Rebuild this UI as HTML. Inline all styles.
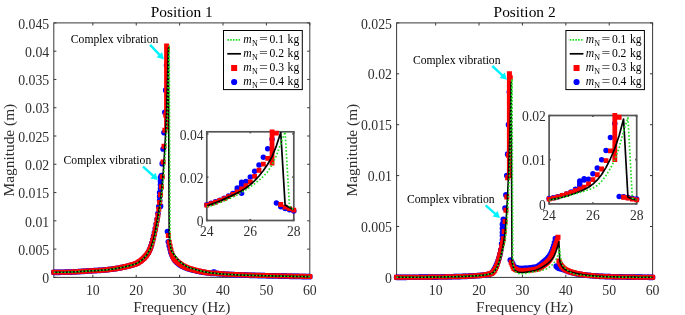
<!DOCTYPE html><html><head><meta charset="utf-8"><style>html,body{margin:0;padding:0;background:#fff;}svg{display:block;will-change:transform;}text{font-family:"Liberation Serif", serif;}</style></head><body>
<svg width="685" height="315" viewBox="0 0 685 315">
<rect width="685" height="315" fill="#fff"/>
<line x1="92.85" y1="277.4" x2="92.85" y2="274.8" stroke="#383838" stroke-width="1.0"/>
<line x1="92.85" y1="22.9" x2="92.85" y2="25.5" stroke="#383838" stroke-width="1.0"/>
<line x1="136.24" y1="277.4" x2="136.24" y2="274.8" stroke="#383838" stroke-width="1.0"/>
<line x1="136.24" y1="22.9" x2="136.24" y2="25.5" stroke="#383838" stroke-width="1.0"/>
<line x1="179.63" y1="277.4" x2="179.63" y2="274.8" stroke="#383838" stroke-width="1.0"/>
<line x1="179.63" y1="22.9" x2="179.63" y2="25.5" stroke="#383838" stroke-width="1.0"/>
<line x1="223.02" y1="277.4" x2="223.02" y2="274.8" stroke="#383838" stroke-width="1.0"/>
<line x1="223.02" y1="22.9" x2="223.02" y2="25.5" stroke="#383838" stroke-width="1.0"/>
<line x1="266.41" y1="277.4" x2="266.41" y2="274.8" stroke="#383838" stroke-width="1.0"/>
<line x1="266.41" y1="22.9" x2="266.41" y2="25.5" stroke="#383838" stroke-width="1.0"/>
<line x1="309.8" y1="277.4" x2="309.8" y2="274.8" stroke="#383838" stroke-width="1.0"/>
<line x1="309.8" y1="22.9" x2="309.8" y2="25.5" stroke="#383838" stroke-width="1.0"/>
<line x1="53.8" y1="277.4" x2="56.4" y2="277.4" stroke="#383838" stroke-width="1.0"/>
<line x1="309.8" y1="277.4" x2="307.2" y2="277.4" stroke="#383838" stroke-width="1.0"/>
<line x1="53.8" y1="249.12" x2="56.4" y2="249.12" stroke="#383838" stroke-width="1.0"/>
<line x1="309.8" y1="249.12" x2="307.2" y2="249.12" stroke="#383838" stroke-width="1.0"/>
<line x1="53.8" y1="220.84" x2="56.4" y2="220.84" stroke="#383838" stroke-width="1.0"/>
<line x1="309.8" y1="220.84" x2="307.2" y2="220.84" stroke="#383838" stroke-width="1.0"/>
<line x1="53.8" y1="192.57" x2="56.4" y2="192.57" stroke="#383838" stroke-width="1.0"/>
<line x1="309.8" y1="192.57" x2="307.2" y2="192.57" stroke="#383838" stroke-width="1.0"/>
<line x1="53.8" y1="164.29" x2="56.4" y2="164.29" stroke="#383838" stroke-width="1.0"/>
<line x1="309.8" y1="164.29" x2="307.2" y2="164.29" stroke="#383838" stroke-width="1.0"/>
<line x1="53.8" y1="136.01" x2="56.4" y2="136.01" stroke="#383838" stroke-width="1.0"/>
<line x1="309.8" y1="136.01" x2="307.2" y2="136.01" stroke="#383838" stroke-width="1.0"/>
<line x1="53.8" y1="107.73" x2="56.4" y2="107.73" stroke="#383838" stroke-width="1.0"/>
<line x1="309.8" y1="107.73" x2="307.2" y2="107.73" stroke="#383838" stroke-width="1.0"/>
<line x1="53.8" y1="79.46" x2="56.4" y2="79.46" stroke="#383838" stroke-width="1.0"/>
<line x1="309.8" y1="79.46" x2="307.2" y2="79.46" stroke="#383838" stroke-width="1.0"/>
<line x1="53.8" y1="51.18" x2="56.4" y2="51.18" stroke="#383838" stroke-width="1.0"/>
<line x1="309.8" y1="51.18" x2="307.2" y2="51.18" stroke="#383838" stroke-width="1.0"/>
<line x1="53.8" y1="22.9" x2="56.4" y2="22.9" stroke="#383838" stroke-width="1.0"/>
<line x1="309.8" y1="22.9" x2="307.2" y2="22.9" stroke="#383838" stroke-width="1.0"/>
<rect x="53.8" y="22.9" width="256" height="254.5" fill="none" stroke="#383838" stroke-width="1.0"/>
<path d="M53.8 272.31h0M54.67 272.31h0M55.54 272.31h0M56.4 272.3h0M57.27 272.3h0M58.14 272.29h0M59.01 272.29h0M59.87 272.28h0M60.74 272.27h0M61.61 272.26h0M62.48 272.25h0M63.35 272.24h0M64.21 272.23h0M65.08 272.21h0M65.95 272.19h0M66.82 272.17h0M67.68 272.14h0M68.55 272.11h0M69.42 272.09h0M70.29 272.06h0M71.16 272.03h0M72.02 271.99h0M72.89 271.96h0M73.76 271.92h0M74.63 271.87h0M75.49 271.83h0M76.36 271.78h0M77.23 271.73h0M78.1 271.68h0M78.97 271.63h0M79.83 271.57h0M80.7 271.52h0M81.57 271.47h0M82.44 271.41h0M83.31 271.35h0M84.17 271.29h0M85.04 271.23h0M85.91 271.17h0M86.78 271.11h0M87.64 271.05h0M88.51 270.99h0M89.38 270.93h0M90.25 270.88h0M91.12 270.83h0M91.98 270.78h0M92.85 270.73h0M93.72 270.69h0M94.59 270.64h0M95.45 270.6h0M96.32 270.55h0M97.19 270.51h0M98.06 270.46h0M98.93 270.41h0M99.79 270.36h0M100.66 270.31h0M101.53 270.25h0M102.4 270.18h0M103.26 270.12h0M104.13 270.04h0M105 269.96h0M105.87 269.88h0M106.74 269.78h0M107.6 269.69h0M108.47 269.59h0M109.34 269.48h0M110.21 269.37h0M111.07 269.26h0M111.94 269.14h0M112.81 269.02h0M113.68 268.89h0M114.55 268.76h0M115.41 268.63h0M116.28 268.5h0M117.15 268.36h0M118.02 268.21h0M118.88 268.05h0M119.75 267.89h0M120.62 267.72h0M121.49 267.55h0M122.36 267.37h0M123.22 267.18h0M124.09 266.99h0M124.96 266.79h0M125.83 266.59h0M126.69 266.38h0M127.56 266.16h0M128.43 265.94h0M129.3 265.72h0M130.17 265.5h0M131.03 265.28h0M131.9 265.04h0M132.77 264.79h0M133.64 264.52h0M134.51 264.23h0M135.37 263.91h0M136.24 263.56h0M137.11 263.16h0M137.98 262.67h0M138.84 262.12h0M139.71 261.52h0M140.58 260.88h0M141.45 260.22h0M142.32 259.51h0M143.18 258.76h0M144.05 257.94h0M144.92 257.05h0M145.79 256.06h0M146.65 254.99h0M147.52 253.81h0M148.39 252.44h0M149.26 250.82h0M150.13 248.75h0M150.99 246.14h0M151.86 243.07h0M152.73 239.67h0M153.6 236.11h0M154.46 232.49h0M155.33 228.6h0M156.2 224.24h0M157.07 219.24h0M157.94 213.49h0M158.8 206.71h0M159.67 192.57h0M160.54 177.3h0M161.41 175.6h0M162.27 163.72h0M163.14 149.02h0M164.01 132.62h0M164.88 112.26h0M165.75 90.2h0M166.61 65.32h0M159.67 200.48h0M159.67 196.53h0M160.54 188.61h0M160.54 184.65h0M160.54 181.26h0M160.54 206.14h0M167.48 231.59h0M168.35 241.77h0M169.22 245.73h0M170.08 249.12h0M170.95 252.52h0M171.82 254.79h0M172.69 256.67h0M173.56 258.25h0M174.42 259.58h0M175.29 260.72h0M176.16 261.71h0M177.03 262.58h0M177.89 263.36h0M178.76 264.04h0M179.63 264.66h0M180.5 265.21h0M181.37 265.71h0M182.23 266.18h0M183.1 266.61h0M183.97 267.01h0M184.84 267.39h0M185.71 267.75h0M186.57 268.08h0M187.44 268.39h0M188.31 268.68h0M189.18 268.95h0M190.04 269.21h0M190.91 269.46h0M191.78 269.7h0M192.65 269.93h0M193.52 270.15h0M194.38 270.37h0M195.25 270.59h0M196.12 270.8h0M196.99 271h0M197.85 271.19h0M198.72 271.37h0M199.59 271.55h0M200.46 271.72h0M201.33 271.89h0M202.19 272.05h0M203.06 272.2h0M203.93 272.35h0M204.8 272.49h0M205.66 272.62h0M206.53 272.75h0M207.4 272.87h0M208.27 272.99h0M209.14 273.1h0M210 273.21h0M210.87 273.32h0M211.74 273.42h0M212.61 273.51h0M213.47 272.03h0M214.34 272.13h0M215.21 273.37h0M216.08 273.46h0M216.95 273.55h0M217.81 273.64h0M218.68 273.72h0M219.55 273.79h0M220.42 273.87h0M221.28 273.94h0M222.15 274.01h0M223.02 274.07h0M223.89 274.13h0M224.76 274.19h0M225.62 274.25h0M226.49 274.3h0M227.36 274.36h0M228.23 274.41h0M229.09 274.45h0M229.96 274.5h0M230.83 274.55h0M231.7 274.59h0M232.57 274.63h0M233.43 274.67h0M234.3 274.71h0M235.17 274.75h0M236.04 274.79h0M236.91 274.83h0M237.77 274.86h0M238.64 274.9h0M239.51 274.93h0M240.38 274.97h0M241.24 275h0M242.11 275.04h0M242.98 275.07h0M243.85 275.1h0M244.72 275.13h0M245.58 275.16h0M246.45 275.19h0M247.32 275.22h0M248.19 275.25h0M249.05 275.27h0M249.92 275.3h0M250.79 275.33h0M251.66 275.35h0M252.53 275.38h0M253.39 275.41h0M254.26 275.43h0M255.13 275.46h0M256 275.48h0M256.86 275.51h0M257.73 275.53h0M258.6 275.56h0M259.47 275.58h0M260.34 275.61h0M261.2 275.63h0M262.07 275.65h0M262.94 275.68h0M263.81 275.7h0M264.67 275.72h0M265.54 275.74h0M266.41 275.76h0M267.28 275.78h0M268.15 275.8h0M269.01 275.82h0M269.88 275.85h0M270.75 275.87h0M271.62 275.89h0M272.48 275.91h0M273.35 275.92h0M274.22 275.94h0M275.09 275.96h0M275.96 275.98h0M276.82 276h0M277.69 276.02h0M278.56 276.04h0M279.43 276.06h0M280.29 276.08h0M281.16 276.1h0M282.03 276.12h0M282.9 276.14h0M283.77 276.16h0M284.63 276.17h0M285.5 276.19h0M286.37 276.21h0M287.24 276.23h0M288.11 276.25h0M288.97 276.27h0M289.84 276.29h0M290.71 276.3h0M291.58 276.32h0M292.44 276.34h0M293.31 276.36h0M294.18 276.38h0M295.05 276.39h0M295.92 276.41h0M296.78 276.43h0M297.65 276.45h0M298.52 276.46h0M299.39 276.48h0M300.25 276.5h0M301.12 276.51h0M301.99 276.53h0M302.86 276.54h0M303.73 276.56h0M304.59 276.58h0M305.46 276.59h0M306.33 276.61h0M307.2 276.62h0M308.06 276.64h0M308.93 276.65h0M309.8 276.66h0" stroke="#0000ff" stroke-width="5.7" stroke-linecap="round" fill="none"/>
<path d="M53.8 272.31h0M54.67 272.31h0M55.54 272.31h0M56.4 272.3h0M57.27 272.3h0M58.14 272.29h0M59.01 272.29h0M59.87 272.28h0M60.74 272.27h0M61.61 272.26h0M62.48 272.25h0M63.35 272.24h0M64.21 272.23h0M65.08 272.21h0M65.95 272.19h0M66.82 272.17h0M67.68 272.14h0M68.55 272.11h0M69.42 272.09h0M70.29 272.06h0M71.16 272.03h0M72.02 271.99h0M72.89 271.96h0M73.76 271.92h0M74.63 271.87h0M75.49 271.83h0M76.36 271.78h0M77.23 271.73h0M78.1 271.68h0M78.97 271.63h0M79.83 271.57h0M80.7 271.52h0M81.57 271.47h0M82.44 271.41h0M83.31 271.35h0M84.17 271.29h0M85.04 271.23h0M85.91 271.17h0M86.78 271.11h0M87.64 271.05h0M88.51 270.99h0M89.38 270.93h0M90.25 270.88h0M91.12 270.83h0M91.98 270.78h0M92.85 270.73h0M93.72 270.69h0M94.59 270.64h0M95.45 270.6h0M96.32 270.55h0M97.19 270.51h0M98.06 270.46h0M98.93 270.41h0M99.79 270.36h0M100.66 270.31h0M101.53 270.25h0M102.4 270.18h0M103.26 270.12h0M104.13 270.04h0M105 269.96h0M105.87 269.88h0M106.74 269.78h0M107.6 269.69h0M108.47 269.59h0M109.34 269.48h0M110.21 269.37h0M111.07 269.26h0M111.94 269.14h0M112.81 269.02h0M113.68 268.89h0M114.55 268.76h0M115.41 268.63h0M116.28 268.5h0M117.15 268.36h0M118.02 268.21h0M118.88 268.05h0M119.75 267.89h0M120.62 267.72h0M121.49 267.55h0M122.36 267.37h0M123.22 267.18h0M124.09 266.99h0M124.96 266.79h0M125.83 266.59h0M126.69 266.38h0M127.56 266.16h0M128.43 265.94h0M129.3 265.72h0M130.17 265.5h0M131.03 265.28h0M131.9 265.04h0M132.77 264.79h0M133.64 264.52h0M134.51 264.23h0M135.37 263.91h0M136.24 263.56h0M137.11 263.16h0M137.98 262.67h0M138.84 262.12h0M139.71 261.52h0M140.58 260.88h0M141.45 260.22h0M142.32 259.51h0M143.18 258.76h0M144.05 257.94h0M144.92 257.05h0M145.79 256.06h0M146.65 254.99h0M147.52 253.79h0M148.39 252.42h0M149.26 250.82h0M150.13 248.86h0M150.99 246.49h0M151.86 243.73h0M152.73 240.62h0M153.6 237.25h0M154.46 233.47h0M155.33 229.26h0M156.2 224.86h0M157.07 220.3h0M157.94 215.19h0M158.8 209.23h0M159.67 202.43h0M160.54 194.83h0M161.41 186.68h0M162.27 176.73h0M163.14 162.03h0M164.01 146.19h0M164.88 130.36h0M165.75 115.09h0M166.61 127.53h0M166.61 125.27h0M166.61 123h0M166.61 120.74h0M166.61 118.48h0M166.61 116.22h0M166.61 113.95h0M166.61 111.69h0M166.61 109.43h0M166.61 107.17h0M166.61 104.91h0M166.61 102.64h0M166.61 100.38h0M166.61 98.12h0M166.61 95.86h0M166.61 93.59h0M166.61 91.33h0M166.61 89.07h0M166.61 86.81h0M166.61 84.55h0M166.61 82.28h0M166.61 80.02h0M166.61 77.76h0M166.61 75.5h0M166.61 73.23h0M166.61 70.97h0M166.61 68.71h0M166.61 66.45h0M166.61 64.19h0M166.61 61.92h0M166.61 59.66h0M166.61 57.4h0M166.61 55.14h0M166.61 52.87h0M166.61 50.61h0M166.61 48.35h0M166.61 46.09h0M167.48 48.92h0M168.35 235.55h0M169.22 242.34h0M170.08 246.29h0M170.95 250.25h0M171.82 253.69h0M172.69 256.19h0M173.56 257.72h0M174.42 258.93h0M175.29 259.92h0M176.16 260.75h0M177.03 261.5h0M177.89 262.22h0M178.76 262.94h0M179.63 263.62h0M180.5 264.25h0M181.37 264.84h0M182.23 265.38h0M183.1 265.89h0M183.97 266.36h0M184.84 266.8h0M185.71 267.2h0M186.57 267.57h0M187.44 267.91h0M188.31 268.23h0M189.18 268.53h0M190.04 268.81h0M190.91 269.08h0M191.78 269.33h0M192.65 269.58h0M193.52 269.81h0M194.38 270.04h0M195.25 270.26h0M196.12 270.48h0M196.99 270.69h0M197.85 270.9h0M198.72 271.09h0M199.59 271.28h0M200.46 271.46h0M201.33 271.64h0M202.19 271.81h0M203.06 271.97h0M203.93 272.12h0M204.8 272.27h0M205.66 272.42h0M206.53 272.55h0M207.4 272.68h0M208.27 272.81h0M209.14 272.93h0M210 273.05h0M210.87 273.16h0M211.74 273.27h0M212.61 273.37h0M213.47 272.99h0M214.34 273.1h0M215.21 273.2h0M216.08 273.3h0M216.95 273.38h0M217.81 273.47h0M218.68 273.55h0M219.55 273.63h0M220.42 273.7h0M221.28 273.77h0M222.15 273.84h0M223.02 273.9h0M223.89 273.96h0M224.76 274.02h0M225.62 274.08h0M226.49 274.13h0M227.36 274.19h0M228.23 274.24h0M229.09 274.28h0M229.96 274.33h0M230.83 274.38h0M231.7 274.42h0M232.57 274.46h0M233.43 274.5h0M234.3 274.54h0M235.17 274.58h0M236.04 274.62h0M236.91 274.66h0M237.77 274.69h0M238.64 274.73h0M239.51 274.76h0M240.38 274.8h0M241.24 274.83h0M242.11 274.87h0M242.98 274.9h0M243.85 274.93h0M244.72 274.96h0M245.58 274.99h0M246.45 275.02h0M247.32 275.05h0M248.19 275.08h0M249.05 275.1h0M249.92 275.13h0M250.79 275.16h0M251.66 275.19h0M252.53 275.21h0M253.39 275.24h0M254.26 275.26h0M255.13 275.29h0M256 275.31h0M256.86 275.34h0M257.73 275.36h0M258.6 275.39h0M259.47 275.41h0M260.34 275.44h0M261.2 275.46h0M262.07 275.48h0M262.94 275.51h0M263.81 275.53h0M264.67 275.55h0M265.54 275.57h0M266.41 275.59h0M267.28 275.61h0M268.15 275.63h0M269.01 275.65h0M269.88 275.68h0M270.75 275.7h0M271.62 275.72h0M272.48 275.74h0M273.35 275.76h0M274.22 275.77h0M275.09 275.79h0M275.96 275.81h0M276.82 275.83h0M277.69 275.85h0M278.56 275.87h0M279.43 275.89h0M280.29 275.91h0M281.16 275.93h0M282.03 275.95h0M282.9 275.97h0M283.77 275.99h0M284.63 276.01h0M285.5 276.02h0M286.37 276.04h0M287.24 276.06h0M288.11 276.08h0M288.97 276.1h0M289.84 276.12h0M290.71 276.13h0M291.58 276.15h0M292.44 276.17h0M293.31 276.19h0M294.18 276.21h0M295.05 276.22h0M295.92 276.24h0M296.78 276.26h0M297.65 276.28h0M298.52 276.29h0M299.39 276.31h0M300.25 276.33h0M301.12 276.34h0M301.99 276.36h0M302.86 276.37h0M303.73 276.39h0M304.59 276.41h0M305.46 276.42h0M306.33 276.44h0M307.2 276.45h0M308.06 276.47h0M308.93 276.48h0M309.8 276.5h0" stroke="#ff0000" stroke-width="5.0" stroke-linecap="square" fill="none"/>
<polyline points="53.8,272.31 54.67,272.31 55.54,272.31 56.4,272.3 57.27,272.3 58.14,272.29 59.01,272.29 59.87,272.28 60.74,272.27 61.61,272.26 62.48,272.25 63.35,272.24 64.21,272.23 65.08,272.21 65.95,272.19 66.82,272.17 67.68,272.14 68.55,272.11 69.42,272.09 70.29,272.06 71.16,272.03 72.02,271.99 72.89,271.96 73.76,271.92 74.63,271.87 75.49,271.83 76.36,271.78 77.23,271.73 78.1,271.68 78.97,271.63 79.83,271.57 80.7,271.52 81.57,271.47 82.44,271.41 83.31,271.35 84.17,271.29 85.04,271.23 85.91,271.17 86.78,271.11 87.64,271.05 88.51,270.99 89.38,270.93 90.25,270.88 91.12,270.83 91.98,270.78 92.85,270.73 93.72,270.69 94.59,270.64 95.45,270.6 96.32,270.55 97.19,270.51 98.06,270.46 98.93,270.41 99.79,270.36 100.66,270.31 101.53,270.25 102.4,270.18 103.26,270.12 104.13,270.04 105,269.96 105.87,269.88 106.74,269.78 107.6,269.69 108.47,269.59 109.34,269.48 110.21,269.37 111.07,269.26 111.94,269.14 112.81,269.02 113.68,268.89 114.55,268.76 115.41,268.63 116.28,268.5 117.15,268.36 118.02,268.21 118.88,268.05 119.75,267.89 120.62,267.72 121.49,267.55 122.36,267.37 123.22,267.18 124.09,266.99 124.96,266.79 125.83,266.59 126.69,266.38 127.56,266.16 128.43,265.94 129.3,265.72 130.17,265.5 131.03,265.28 131.9,265.04 132.77,264.79 133.64,264.52 134.51,264.23 135.37,263.91 136.24,263.56 137.11,263.16 137.98,262.67 138.84,262.12 139.71,261.52 140.58,260.88 141.45,260.22 142.32,259.51 143.18,258.76 144.05,257.94 144.92,257.05 145.79,256.06 146.65,254.98 147.52,253.76 148.39,252.38 149.26,250.82 150.13,249.03 150.99,246.98 151.86,244.64 152.73,241.97 153.6,238.94 154.46,235.29 155.33,231.01 156.2,226.45 157.07,221.52 157.94,216.32 158.8,211.08 159.67,205.69 160.54,199.69 161.41,192.51 162.27,183.74 163.14,173.37 164.01,161.05 164.88,146.61 165.75,130.42 166.61,110.56 167.48,82.28 168.35,47.78 169.22,236.68 170.08,243.47 170.95,249.12 171.82,251.15 172.69,252.52 173.56,253.86 174.42,255.05 175.29,256.19 176.16,257.33 177.03,258.44 177.89,259.49 178.76,260.48 179.63,261.39 180.5,262.21 181.37,262.94 182.23,263.62 183.1,264.25 183.97,264.84 184.84,265.38 185.71,265.89 186.57,266.36 187.44,266.8 188.31,267.2 189.18,267.57 190.04,267.91 190.91,268.23 191.78,268.53 192.65,268.81 193.52,269.08 194.38,269.33 195.25,269.58 196.12,269.81 196.99,270.04 197.85,270.26 198.72,270.48 199.59,270.69 200.46,270.9 201.33,271.09 202.19,271.28 203.06,271.46 203.93,271.64 204.8,271.81 205.66,271.97 206.53,272.12 207.4,272.27 208.27,272.42 209.14,272.55 210,272.68 210.87,272.81 211.74,272.93 212.61,273.05 213.47,273.16 214.34,273.27 215.21,273.37 216.08,273.46 216.95,273.55 217.81,273.64 218.68,273.72 219.55,273.79 220.42,273.87 221.28,273.94 222.15,274.01 223.02,274.07 223.89,274.13 224.76,274.19 225.62,274.25 226.49,274.3 227.36,274.36 228.23,274.41 229.09,274.45 229.96,274.5 230.83,274.55 231.7,274.59 232.57,274.63 233.43,274.67 234.3,274.71 235.17,274.75 236.04,274.79 236.91,274.83 237.77,274.86 238.64,274.9 239.51,274.93 240.38,274.97 241.24,275 242.11,275.04 242.98,275.07 243.85,275.1 244.72,275.13 245.58,275.16 246.45,275.19 247.32,275.22 248.19,275.25 249.05,275.27 249.92,275.3 250.79,275.33 251.66,275.35 252.53,275.38 253.39,275.41 254.26,275.43 255.13,275.46 256,275.48 256.86,275.51 257.73,275.53 258.6,275.56 259.47,275.58 260.34,275.61 261.2,275.63 262.07,275.65 262.94,275.68 263.81,275.7 264.67,275.72 265.54,275.74 266.41,275.76 267.28,275.78 268.15,275.8 269.01,275.82 269.88,275.85 270.75,275.87 271.62,275.89 272.48,275.91 273.35,275.92 274.22,275.94 275.09,275.96 275.96,275.98 276.82,276 277.69,276.02 278.56,276.04 279.43,276.06 280.29,276.08 281.16,276.1 282.03,276.12 282.9,276.14 283.77,276.16 284.63,276.17 285.5,276.19 286.37,276.21 287.24,276.23 288.11,276.25 288.97,276.27 289.84,276.29 290.71,276.3 291.58,276.32 292.44,276.34 293.31,276.36 294.18,276.38 295.05,276.39 295.92,276.41 296.78,276.43 297.65,276.45 298.52,276.46 299.39,276.48 300.25,276.5 301.12,276.51 301.99,276.53 302.86,276.54 303.73,276.56 304.59,276.58 305.46,276.59 306.33,276.61 307.2,276.62 308.06,276.64 308.93,276.65 309.8,276.66" stroke="#000" stroke-width="1.6" fill="none" stroke-linejoin="round"/>
<polyline points="53.8,272.31 54.67,272.31 55.54,272.31 56.4,272.3 57.27,272.3 58.14,272.29 59.01,272.29 59.87,272.28 60.74,272.27 61.61,272.26 62.48,272.25 63.35,272.24 64.21,272.23 65.08,272.21 65.95,272.19 66.82,272.17 67.68,272.14 68.55,272.11 69.42,272.09 70.29,272.06 71.16,272.03 72.02,271.99 72.89,271.96 73.76,271.92 74.63,271.87 75.49,271.83 76.36,271.78 77.23,271.73 78.1,271.68 78.97,271.63 79.83,271.57 80.7,271.52 81.57,271.47 82.44,271.41 83.31,271.35 84.17,271.29 85.04,271.23 85.91,271.17 86.78,271.11 87.64,271.05 88.51,270.99 89.38,270.93 90.25,270.88 91.12,270.83 91.98,270.78 92.85,270.73 93.72,270.69 94.59,270.64 95.45,270.6 96.32,270.55 97.19,270.51 98.06,270.46 98.93,270.41 99.79,270.36 100.66,270.31 101.53,270.25 102.4,270.18 103.26,270.12 104.13,270.04 105,269.96 105.87,269.88 106.74,269.78 107.6,269.69 108.47,269.59 109.34,269.48 110.21,269.37 111.07,269.26 111.94,269.14 112.81,269.02 113.68,268.89 114.55,268.76 115.41,268.63 116.28,268.5 117.15,268.36 118.02,268.21 118.88,268.05 119.75,267.89 120.62,267.72 121.49,267.55 122.36,267.37 123.22,267.18 124.09,266.99 124.96,266.79 125.83,266.59 126.69,266.38 127.56,266.16 128.43,265.94 129.3,265.72 130.17,265.5 131.03,265.28 131.9,265.04 132.77,264.79 133.64,264.52 134.51,264.23 135.37,263.91 136.24,263.56 137.11,263.16 137.98,262.67 138.84,262.12 139.71,261.52 140.58,260.88 141.45,260.22 142.32,259.51 143.18,258.76 144.05,257.94 144.92,257.05 145.79,256.06 146.65,254.96 147.52,253.69 148.39,252.3 149.26,250.82 150.13,249.31 150.99,247.76 151.86,246.06 152.73,244.11 153.6,241.77 154.46,238.64 155.33,234.76 156.2,230.66 157.07,226.24 157.94,221.41 158.8,216.13 159.67,210.35 160.54,204.02 161.41,197.09 162.27,189.55 163.14,181.26 164.01,172.06 164.88,162.11 165.75,149.58 166.61,131.62 167.48,107.73 168.35,76.63 169.22,46.09 170.08,240.07 170.95,249.12 171.82,251.22 172.69,252.52 173.56,253.86 174.42,255.05 175.29,256.19 176.16,257.33 177.03,258.44 177.89,259.49 178.76,260.48 179.63,261.39 180.5,262.21 181.37,262.94 182.23,263.62 183.1,264.25 183.97,264.84 184.84,265.38 185.71,265.89 186.57,266.36 187.44,266.8 188.31,267.2 189.18,267.57 190.04,267.91 190.91,268.23 191.78,268.53 192.65,268.81 193.52,269.08 194.38,269.33 195.25,269.58 196.12,269.81 196.99,270.04 197.85,270.26 198.72,270.48 199.59,270.69 200.46,270.9 201.33,271.09 202.19,271.28 203.06,271.46 203.93,271.64 204.8,271.81 205.66,271.97 206.53,272.12 207.4,272.27 208.27,272.42 209.14,272.55 210,272.68 210.87,272.81 211.74,272.93 212.61,273.05 213.47,273.16 214.34,273.27 215.21,273.37 216.08,273.46 216.95,273.55 217.81,273.64 218.68,273.72 219.55,273.79 220.42,273.87 221.28,273.94 222.15,274.01 223.02,274.07 223.89,274.13 224.76,274.19 225.62,274.25 226.49,274.3 227.36,274.36 228.23,274.41 229.09,274.45 229.96,274.5 230.83,274.55 231.7,274.59 232.57,274.63 233.43,274.67 234.3,274.71 235.17,274.75 236.04,274.79 236.91,274.83 237.77,274.86 238.64,274.9 239.51,274.93 240.38,274.97 241.24,275 242.11,275.04 242.98,275.07 243.85,275.1 244.72,275.13 245.58,275.16 246.45,275.19 247.32,275.22 248.19,275.25 249.05,275.27 249.92,275.3 250.79,275.33 251.66,275.35 252.53,275.38 253.39,275.41 254.26,275.43 255.13,275.46 256,275.48 256.86,275.51 257.73,275.53 258.6,275.56 259.47,275.58 260.34,275.61 261.2,275.63 262.07,275.65 262.94,275.68 263.81,275.7 264.67,275.72 265.54,275.74 266.41,275.76 267.28,275.78 268.15,275.8 269.01,275.82 269.88,275.85 270.75,275.87 271.62,275.89 272.48,275.91 273.35,275.92 274.22,275.94 275.09,275.96 275.96,275.98 276.82,276 277.69,276.02 278.56,276.04 279.43,276.06 280.29,276.08 281.16,276.1 282.03,276.12 282.9,276.14 283.77,276.16 284.63,276.17 285.5,276.19 286.37,276.21 287.24,276.23 288.11,276.25 288.97,276.27 289.84,276.29 290.71,276.3 291.58,276.32 292.44,276.34 293.31,276.36 294.18,276.38 295.05,276.39 295.92,276.41 296.78,276.43 297.65,276.45 298.52,276.46 299.39,276.48 300.25,276.5 301.12,276.51 301.99,276.53 302.86,276.54 303.73,276.56 304.59,276.58 305.46,276.59 306.33,276.61 307.2,276.62 308.06,276.64 308.93,276.65 309.8,276.66" stroke="#22dd22" stroke-width="1.6" fill="none" stroke-linejoin="round" stroke-dasharray="1.6 1.9"/>
<text x="92.85" y="294.6" font-size="13.8" text-anchor="middle" fill="#2e2e2e">10</text>
<text x="136.24" y="294.6" font-size="13.8" text-anchor="middle" fill="#2e2e2e">20</text>
<text x="179.63" y="294.6" font-size="13.8" text-anchor="middle" fill="#2e2e2e">30</text>
<text x="223.02" y="294.6" font-size="13.8" text-anchor="middle" fill="#2e2e2e">40</text>
<text x="266.41" y="294.6" font-size="13.8" text-anchor="middle" fill="#2e2e2e">50</text>
<text x="309.8" y="294.6" font-size="13.8" text-anchor="middle" fill="#2e2e2e">60</text>
<text x="49.2" y="283.09" font-size="13.8" text-anchor="end" fill="#2e2e2e">0</text>
<text x="49.2" y="254.81" font-size="13.8" text-anchor="end" fill="#2e2e2e">0.005</text>
<text x="49.2" y="226.54" font-size="13.8" text-anchor="end" fill="#2e2e2e">0.01</text>
<text x="49.2" y="198.26" font-size="13.8" text-anchor="end" fill="#2e2e2e">0.015</text>
<text x="49.2" y="169.98" font-size="13.8" text-anchor="end" fill="#2e2e2e">0.02</text>
<text x="49.2" y="141.7" font-size="13.8" text-anchor="end" fill="#2e2e2e">0.025</text>
<text x="49.2" y="113.43" font-size="13.8" text-anchor="end" fill="#2e2e2e">0.03</text>
<text x="49.2" y="85.15" font-size="13.8" text-anchor="end" fill="#2e2e2e">0.035</text>
<text x="49.2" y="56.87" font-size="13.8" text-anchor="end" fill="#2e2e2e">0.04</text>
<text x="49.2" y="28.59" font-size="13.8" text-anchor="end" fill="#2e2e2e">0.045</text>
<text x="181.8" y="16.9" font-size="15.4" text-anchor="middle" fill="#000">Position 1</text>
<text x="181.8" y="311.7" font-size="15.4" text-anchor="middle" fill="#2e2e2e">Frequency (Hz)</text>
<text x="0" y="0" font-size="15.4" text-anchor="middle" fill="#2e2e2e" transform="translate(14.3,150.15) rotate(-90)">Magnitude (m)</text>
<rect x="223.5" y="30.5" width="78.8" height="59.1" fill="#fff" stroke="#000" stroke-width="1"/>
<line x1="227.3" y1="39.8" x2="241" y2="39.8" stroke="#22dd22" stroke-width="1.7" stroke-dasharray="1.6 1.2"/>
<text y="42.6" font-size="11.6" fill="#000"><tspan x="243.3" font-style="italic">m</tspan><tspan x="251.9" y="46.1" font-size="8">N</tspan><tspan x="269.5" y="42.6">0.1</tspan><tspan x="287.6">kg</tspan></text>
<path d="M259.9 37.5h7.2M259.9 39.5h7.2" stroke="#222" stroke-width="0.65"/>
<line x1="227.3" y1="53.8" x2="241" y2="53.8" stroke="#000" stroke-width="1.7"/>
<text y="56.6" font-size="11.6" fill="#000"><tspan x="243.3" font-style="italic">m</tspan><tspan x="251.9" y="60.1" font-size="8">N</tspan><tspan x="269.5" y="56.6">0.2</tspan><tspan x="287.6">kg</tspan></text>
<path d="M259.9 51.5h7.2M259.9 53.5h7.2" stroke="#222" stroke-width="0.65"/>
<rect x="231.15" y="65" width="6" height="6" fill="#ff0000"/>
<text y="70.8" font-size="11.6" fill="#000"><tspan x="243.3" font-style="italic">m</tspan><tspan x="251.9" y="74.3" font-size="8">N</tspan><tspan x="269.5" y="70.8">0.3</tspan><tspan x="287.6">kg</tspan></text>
<path d="M259.9 65.5h7.2M259.9 68.5h7.2" stroke="#222" stroke-width="0.65"/>
<circle cx="234.15" cy="82" r="3.1" fill="#0000ff"/>
<text y="84.8" font-size="11.6" fill="#000"><tspan x="243.3" font-style="italic">m</tspan><tspan x="251.9" y="88.3" font-size="8">N</tspan><tspan x="269.5" y="84.8">0.4</tspan><tspan x="287.6">kg</tspan></text>
<path d="M259.9 79.5h7.2M259.9 82.5h7.2" stroke="#222" stroke-width="0.65"/>
<text x="70.8" y="42.9" font-size="11.65" text-anchor="start" fill="#000">Complex vibration</text>
<line x1="150.1" y1="44.9" x2="160.04" y2="55.34" stroke="#00f4ff" stroke-width="2.4"/>
<path d="M163.9 59.4L156.6 57.24L162.1 52Z" fill="#00f4ff"/>
<text x="63.6" y="163.8" font-size="11.65" text-anchor="start" fill="#000">Complex vibration</text>
<line x1="143" y1="166.7" x2="153.72" y2="176.27" stroke="#00f4ff" stroke-width="2.4"/>
<path d="M157.9 180L150.45 178.44L155.51 172.77Z" fill="#00f4ff"/>
<clipPath id="clip1"><rect x="206.8" y="131.8" width="87" height="88.7"/></clipPath>
<rect x="206.8" y="131.8" width="87" height="88.7" fill="#fff"/>
<line x1="206.8" y1="220.5" x2="206.8" y2="218.9" stroke="#555" stroke-width="1.7"/>
<line x1="206.8" y1="131.8" x2="206.8" y2="133.4" stroke="#555" stroke-width="1.7"/>
<line x1="250.3" y1="220.5" x2="250.3" y2="218.9" stroke="#555" stroke-width="1.7"/>
<line x1="250.3" y1="131.8" x2="250.3" y2="133.4" stroke="#555" stroke-width="1.7"/>
<line x1="293.8" y1="220.5" x2="293.8" y2="218.9" stroke="#555" stroke-width="1.7"/>
<line x1="293.8" y1="131.8" x2="293.8" y2="133.4" stroke="#555" stroke-width="1.7"/>
<line x1="206.8" y1="220.5" x2="208.4" y2="220.5" stroke="#555" stroke-width="1.7"/>
<line x1="293.8" y1="220.5" x2="292.2" y2="220.5" stroke="#555" stroke-width="1.7"/>
<line x1="206.8" y1="177.2" x2="208.4" y2="177.2" stroke="#555" stroke-width="1.7"/>
<line x1="293.8" y1="177.2" x2="292.2" y2="177.2" stroke="#555" stroke-width="1.7"/>
<line x1="206.8" y1="133.9" x2="208.4" y2="133.9" stroke="#555" stroke-width="1.7"/>
<line x1="293.8" y1="133.9" x2="292.2" y2="133.9" stroke="#555" stroke-width="1.7"/>
<rect x="206.8" y="131.8" width="87" height="88.7" fill="none" stroke="#555" stroke-width="1.7"/>
<path d="M206.8 204.7h0M211.15 203.31h0M215.5 201.82h0M219.85 200.15h0M224.2 198.23h0M228.55 196.04h0M232.9 193.44h0M237.25 188.03h0M241.6 182.18h0M245.95 181.53h0M250.3 176.98h0M254.65 171.35h0M259 165.08h0M263.35 157.28h0M267.7 148.84h0M272.05 139.31h0M237.25 191.06h0M237.25 189.54h0M241.6 186.51h0M241.6 184.99h0M241.6 183.69h0M241.6 193.22h0M276.4 202.96h0M280.75 206.86h0M285.1 208.38h0M289.45 209.68h0M293.8 210.97h0" stroke="#0000ff" stroke-width="5.5" stroke-linecap="round" fill="none"/>
<path d="M206.8 205.13h0M211.15 203.68h0M215.5 202.07h0M219.85 200.39h0M224.2 198.64h0M228.55 196.69h0M232.9 194.4h0M237.25 191.8h0M241.6 188.89h0M245.95 185.77h0M250.3 181.96h0M254.65 176.33h0M259 170.27h0M263.35 164.21h0M267.7 158.36h0M272.05 163.13h0M272.05 162.26h0M272.05 161.4h0M272.05 160.53h0M272.05 159.66h0M272.05 158.8h0M272.05 157.93h0M272.05 157.07h0M272.05 156.2h0M272.05 155.33h0M272.05 154.47h0M272.05 153.6h0M272.05 152.74h0M272.05 151.87h0M272.05 151h0M272.05 150.14h0M272.05 149.27h0M272.05 148.41h0M272.05 147.54h0M272.05 146.67h0M272.05 145.81h0M272.05 144.94h0M272.05 144.08h0M272.05 143.21h0M272.05 142.34h0M272.05 141.48h0M272.05 140.61h0M272.05 139.75h0M272.05 138.88h0M272.05 138.01h0M272.05 137.15h0M272.05 136.28h0M272.05 135.42h0M272.05 134.55h0M272.05 133.68h0M272.05 132.82h0M272.05 131.95h0M276.4 133.03h0M280.75 204.48h0M285.1 207.08h0M289.45 208.59h0M293.8 210.11h0" stroke="#ff0000" stroke-width="4.8" stroke-linecap="square" fill="none"/>
<polyline points="206.8,205.78 211.15,204.38 215.5,202.74 219.85,201 224.2,199.11 228.55,197.12 232.9,195.11 237.25,193.05 241.6,190.75 245.95,188 250.3,184.65 254.65,180.68 259,175.96 263.35,170.43 267.7,164.23 272.05,156.63 276.4,145.81 280.75,132.6 285.1,204.91 289.45,207.51 293.8,209.68" stroke="#000" stroke-width="1.7" fill="none" stroke-linejoin="round" clip-path="url(#clip1)"/>
<polyline points="206.8,206.86 211.15,205.66 215.5,204.18 219.85,202.61 224.2,200.92 228.55,199.07 232.9,197.04 237.25,194.83 241.6,192.41 245.95,189.76 250.3,186.87 254.65,183.7 259,180.17 263.35,176.36 267.7,171.57 272.05,164.69 276.4,155.55 280.75,143.64 285.1,131.95 289.45,206.21 293.8,209.68" stroke="#22dd22" stroke-width="1.7" fill="none" stroke-linejoin="round" stroke-dasharray="1.6 1.9" clip-path="url(#clip1)"/>
<text x="206.8" y="236.3" font-size="13.6" text-anchor="middle" fill="#2e2e2e">24</text>
<text x="250.3" y="236.3" font-size="13.6" text-anchor="middle" fill="#2e2e2e">26</text>
<text x="293.8" y="236.3" font-size="13.6" text-anchor="middle" fill="#2e2e2e">28</text>
<text x="203.6" y="226.12" font-size="13.6" text-anchor="end" fill="#2e2e2e">0</text>
<text x="203.6" y="182.82" font-size="13.6" text-anchor="end" fill="#2e2e2e">0.02</text>
<text x="203.6" y="139.52" font-size="13.6" text-anchor="end" fill="#2e2e2e">0.04</text>
<line x1="435.65" y1="277.4" x2="435.65" y2="274.8" stroke="#383838" stroke-width="1.0"/>
<line x1="435.65" y1="22.9" x2="435.65" y2="25.5" stroke="#383838" stroke-width="1.0"/>
<line x1="479.04" y1="277.4" x2="479.04" y2="274.8" stroke="#383838" stroke-width="1.0"/>
<line x1="479.04" y1="22.9" x2="479.04" y2="25.5" stroke="#383838" stroke-width="1.0"/>
<line x1="522.43" y1="277.4" x2="522.43" y2="274.8" stroke="#383838" stroke-width="1.0"/>
<line x1="522.43" y1="22.9" x2="522.43" y2="25.5" stroke="#383838" stroke-width="1.0"/>
<line x1="565.82" y1="277.4" x2="565.82" y2="274.8" stroke="#383838" stroke-width="1.0"/>
<line x1="565.82" y1="22.9" x2="565.82" y2="25.5" stroke="#383838" stroke-width="1.0"/>
<line x1="609.21" y1="277.4" x2="609.21" y2="274.8" stroke="#383838" stroke-width="1.0"/>
<line x1="609.21" y1="22.9" x2="609.21" y2="25.5" stroke="#383838" stroke-width="1.0"/>
<line x1="652.6" y1="277.4" x2="652.6" y2="274.8" stroke="#383838" stroke-width="1.0"/>
<line x1="652.6" y1="22.9" x2="652.6" y2="25.5" stroke="#383838" stroke-width="1.0"/>
<line x1="396.6" y1="277.4" x2="399.2" y2="277.4" stroke="#383838" stroke-width="1.0"/>
<line x1="652.6" y1="277.4" x2="650" y2="277.4" stroke="#383838" stroke-width="1.0"/>
<line x1="396.6" y1="226.5" x2="399.2" y2="226.5" stroke="#383838" stroke-width="1.0"/>
<line x1="652.6" y1="226.5" x2="650" y2="226.5" stroke="#383838" stroke-width="1.0"/>
<line x1="396.6" y1="175.6" x2="399.2" y2="175.6" stroke="#383838" stroke-width="1.0"/>
<line x1="652.6" y1="175.6" x2="650" y2="175.6" stroke="#383838" stroke-width="1.0"/>
<line x1="396.6" y1="124.7" x2="399.2" y2="124.7" stroke="#383838" stroke-width="1.0"/>
<line x1="652.6" y1="124.7" x2="650" y2="124.7" stroke="#383838" stroke-width="1.0"/>
<line x1="396.6" y1="73.8" x2="399.2" y2="73.8" stroke="#383838" stroke-width="1.0"/>
<line x1="652.6" y1="73.8" x2="650" y2="73.8" stroke="#383838" stroke-width="1.0"/>
<line x1="396.6" y1="22.9" x2="399.2" y2="22.9" stroke="#383838" stroke-width="1.0"/>
<line x1="652.6" y1="22.9" x2="650" y2="22.9" stroke="#383838" stroke-width="1.0"/>
<rect x="396.6" y="22.9" width="256" height="254.5" fill="none" stroke="#383838" stroke-width="1.0"/>
<path d="M396.6 277.3h0M397.47 277.3h0M398.34 277.29h0M399.2 277.29h0M400.07 277.29h0M400.94 277.29h0M401.81 277.29h0M402.67 277.29h0M403.54 277.28h0M404.41 277.28h0M405.28 277.28h0M406.15 277.28h0M407.01 277.27h0M407.88 277.27h0M408.75 277.27h0M409.62 277.26h0M410.48 277.26h0M411.35 277.26h0M412.22 277.25h0M413.09 277.25h0M413.96 277.25h0M414.82 277.24h0M415.69 277.24h0M416.56 277.23h0M417.43 277.23h0M418.29 277.23h0M419.16 277.22h0M420.03 277.21h0M420.9 277.21h0M421.77 277.2h0M422.63 277.2h0M423.5 277.19h0M424.37 277.18h0M425.24 277.17h0M426.11 277.17h0M426.97 277.16h0M427.84 277.15h0M428.71 277.14h0M429.58 277.13h0M430.44 277.12h0M431.31 277.11h0M432.18 277.1h0M433.05 277.09h0M433.92 277.08h0M434.78 277.07h0M435.65 277.06h0M436.52 277.04h0M437.39 277.03h0M438.25 277.02h0M439.12 277.01h0M439.99 276.99h0M440.86 276.98h0M441.73 276.97h0M442.59 276.95h0M443.46 276.94h0M444.33 276.92h0M445.2 276.91h0M446.06 276.89h0M446.93 276.87h0M447.8 276.86h0M448.67 276.84h0M449.54 276.82h0M450.4 276.8h0M451.27 276.79h0M452.14 276.77h0M453.01 276.75h0M453.87 276.72h0M454.74 276.7h0M455.61 276.68h0M456.48 276.66h0M457.35 276.63h0M458.21 276.61h0M459.08 276.58h0M459.95 276.55h0M460.82 276.53h0M461.68 276.5h0M462.55 276.46h0M463.42 276.43h0M464.29 276.4h0M465.16 276.36h0M466.02 276.33h0M466.89 276.29h0M467.76 276.25h0M468.63 276.21h0M469.49 276.17h0M470.36 276.13h0M471.23 276.09h0M472.1 276.04h0M472.97 275.99h0M473.83 275.94h0M474.7 275.89h0M475.57 275.83h0M476.44 275.77h0M477.31 275.71h0M478.17 275.64h0M479.04 275.57h0M479.91 275.49h0M480.78 275.41h0M481.64 275.32h0M482.51 275.23h0M483.38 275.13h0M484.25 275.03h0M485.12 274.91h0M485.98 274.79h0M486.85 274.64h0M487.72 274.47h0M488.59 274.28h0M489.45 274.04h0M490.32 273.73h0M491.19 273.29h0M492.06 272.67h0M492.93 271.58h0M493.79 270.05h0M494.66 268.5h0M495.53 266.94h0M496.4 265.18h0M497.26 263.17h0M498.13 260.87h0M499 258.06h0M499.87 254.48h0M500.74 249.91h0M501.6 243.81h0M502.47 232.61h0M503.34 222.43h0M504.21 220.39h0M505.07 208.18h0M505.94 194.94h0M506.81 175.6h0M507.68 154.22h0M508.55 124.7h0M509.41 92.12h0M502.47 239.73h0M502.47 235.66h0M502.47 228.54h0M502.47 224.46h0M503.34 219.37h0M510.28 260.09h0M511.15 261.11h0M512.02 262.51h0M512.88 264.17h0M513.75 266.2h0M514.62 266.8h0M515.49 267.28h0M516.36 267.67h0M517.22 267.98h0M518.09 268.21h0M518.96 268.38h0M519.83 268.48h0M520.69 268.54h0M521.56 268.54h0M522.43 268.53h0M523.3 268.51h0M524.17 268.47h0M525.03 268.43h0M525.9 268.37h0M526.77 268.31h0M527.64 268.23h0M528.51 268.15h0M529.37 268.05h0M530.24 267.95h0M531.11 267.84h0M531.98 267.71h0M532.84 267.58h0M533.71 267.44h0M534.58 267.3h0M535.45 267.13h0M536.32 266.87h0M537.18 266.51h0M538.05 266.07h0M538.92 265.54h0M539.79 264.94h0M540.65 264.28h0M541.52 263.58h0M542.39 262.84h0M543.26 262.09h0M544.13 261.36h0M544.99 260.62h0M545.86 259.85h0M546.73 259.03h0M547.6 258.14h0M548.46 257.15h0M549.33 256.03h0M550.2 254.72h0M551.07 253.16h0M551.94 251.13h0M552.8 248.66h0M553.67 245.84h0M554.54 242.58h0M555.41 238.72h0M556.27 266.2h0M557.14 267.04h0M558.01 267.73h0M558.88 268.24h0M559.75 268.58h0M560.61 268.85h0M561.48 269.08h0M562.35 269.28h0M563.22 269.51h0M564.08 269.76h0M564.95 270.07h0M565.82 270.39h0M566.69 270.73h0M567.56 271.07h0M568.42 271.4h0M569.29 271.72h0M570.16 272.03h0M571.03 272.32h0M571.89 272.58h0M572.76 272.82h0M573.63 273.04h0M574.5 273.24h0M575.37 273.44h0M576.23 273.62h0M577.1 273.79h0M577.97 273.96h0M578.84 274.11h0M579.71 274.26h0M580.57 274.4h0M581.44 274.54h0M582.31 274.66h0M583.18 274.79h0M584.04 274.9h0M584.91 275.01h0M585.78 275.12h0M586.65 275.22h0M587.52 275.31h0M588.38 275.41h0M589.25 275.49h0M590.12 275.58h0M590.99 275.66h0M591.85 275.74h0M592.72 275.81h0M593.59 275.88h0M594.46 275.95h0M595.33 276.01h0M596.19 276.07h0M597.06 276.13h0M597.93 276.18h0M598.8 276.23h0M599.66 276.28h0M600.53 276.33h0M601.4 276.38h0M602.27 276.42h0M603.14 276.46h0M604 276.5h0M604.87 276.53h0M605.74 276.57h0M606.61 276.6h0M607.47 276.63h0M608.34 276.66h0M609.21 276.69h0M610.08 276.71h0M610.95 276.74h0M611.81 276.76h0M612.68 276.78h0M613.55 276.8h0M614.42 276.82h0M615.28 276.84h0M616.15 276.86h0M617.02 276.88h0M617.89 276.89h0M618.76 276.91h0M619.62 276.93h0M620.49 276.94h0M621.36 276.95h0M622.23 276.97h0M623.09 276.98h0M623.96 277h0M624.83 277.01h0M625.7 277.02h0M626.57 277.03h0M627.43 277.05h0M628.3 277.06h0M629.17 277.07h0M630.04 277.08h0M630.91 277.09h0M631.77 277.11h0M632.64 277.12h0M633.51 277.13h0M634.38 277.14h0M635.24 277.15h0M636.11 277.16h0M636.98 277.17h0M637.85 277.18h0M638.72 277.19h0M639.58 277.2h0M640.45 277.21h0M641.32 277.21h0M642.19 277.22h0M643.05 277.23h0M643.92 277.24h0M644.79 277.24h0M645.66 277.25h0M646.53 277.26h0M647.39 277.26h0M648.26 277.27h0M649.13 277.28h0M650 277.28h0M650.86 277.29h0M651.73 277.29h0M652.6 277.3h0" stroke="#0000ff" stroke-width="5.7" stroke-linecap="round" fill="none"/>
<path d="M396.6 277.3h0M397.47 277.3h0M398.34 277.29h0M399.2 277.29h0M400.07 277.29h0M400.94 277.29h0M401.81 277.29h0M402.67 277.29h0M403.54 277.28h0M404.41 277.28h0M405.28 277.28h0M406.15 277.28h0M407.01 277.27h0M407.88 277.27h0M408.75 277.27h0M409.62 277.26h0M410.48 277.26h0M411.35 277.26h0M412.22 277.25h0M413.09 277.25h0M413.96 277.25h0M414.82 277.24h0M415.69 277.24h0M416.56 277.23h0M417.43 277.23h0M418.29 277.23h0M419.16 277.22h0M420.03 277.21h0M420.9 277.21h0M421.77 277.2h0M422.63 277.2h0M423.5 277.19h0M424.37 277.18h0M425.24 277.17h0M426.11 277.17h0M426.97 277.16h0M427.84 277.15h0M428.71 277.14h0M429.58 277.13h0M430.44 277.12h0M431.31 277.11h0M432.18 277.1h0M433.05 277.09h0M433.92 277.08h0M434.78 277.07h0M435.65 277.06h0M436.52 277.04h0M437.39 277.03h0M438.25 277.02h0M439.12 277.01h0M439.99 276.99h0M440.86 276.98h0M441.73 276.97h0M442.59 276.95h0M443.46 276.94h0M444.33 276.92h0M445.2 276.91h0M446.06 276.89h0M446.93 276.87h0M447.8 276.86h0M448.67 276.84h0M449.54 276.82h0M450.4 276.8h0M451.27 276.79h0M452.14 276.77h0M453.01 276.75h0M453.87 276.72h0M454.74 276.7h0M455.61 276.68h0M456.48 276.66h0M457.35 276.63h0M458.21 276.61h0M459.08 276.58h0M459.95 276.55h0M460.82 276.53h0M461.68 276.5h0M462.55 276.46h0M463.42 276.43h0M464.29 276.4h0M465.16 276.36h0M466.02 276.33h0M466.89 276.29h0M467.76 276.25h0M468.63 276.21h0M469.49 276.17h0M470.36 276.13h0M471.23 276.09h0M472.1 276.04h0M472.97 275.99h0M473.83 275.94h0M474.7 275.89h0M475.57 275.83h0M476.44 275.77h0M477.31 275.71h0M478.17 275.64h0M479.04 275.57h0M479.91 275.49h0M480.78 275.41h0M481.64 275.32h0M482.51 275.22h0M483.38 275.12h0M484.25 275.01h0M485.12 274.89h0M485.98 274.76h0M486.85 274.61h0M487.72 274.44h0M488.59 274.26h0M489.45 274.04h0M490.32 273.79h0M491.19 273.46h0M492.06 273.02h0M492.93 272.33h0M493.79 271.35h0M494.66 270.15h0M495.53 268.56h0M496.4 266.61h0M497.26 264.22h0M498.13 261.31h0M499 258.06h0M499.87 254.59h0M500.74 250.83h0M501.6 246.86h0M502.47 243.11h0M503.34 238.72h0M504.21 231.59h0M505.07 221.41h0M505.94 210.21h0M506.81 196.98h0M507.68 177.64h0M508.55 155.24h0M509.41 175.6h0M509.41 173.56h0M509.41 171.53h0M509.41 169.49h0M509.41 167.46h0M509.41 165.42h0M509.41 163.38h0M509.41 161.35h0M509.41 159.31h0M509.41 157.28h0M509.41 155.24h0M509.41 153.2h0M509.41 151.17h0M509.41 149.13h0M509.41 147.1h0M509.41 145.06h0M509.41 143.02h0M509.41 140.99h0M509.41 138.95h0M509.41 136.92h0M509.41 134.88h0M509.41 132.84h0M509.41 130.81h0M509.41 128.77h0M509.41 126.74h0M509.41 124.7h0M509.41 122.66h0M509.41 120.63h0M509.41 118.59h0M509.41 116.56h0M509.41 114.52h0M509.41 112.48h0M509.41 110.45h0M509.41 108.41h0M509.41 106.38h0M509.41 104.34h0M509.41 102.3h0M509.41 100.27h0M509.41 98.23h0M509.41 96.2h0M509.41 94.16h0M509.41 92.12h0M509.41 90.09h0M509.41 88.05h0M509.41 86.02h0M509.41 83.98h0M509.41 81.94h0M509.41 79.91h0M509.41 77.87h0M509.41 75.84h0M509.41 73.8h0M510.28 77.87h0M511.15 262.13h0M512.02 264.17h0M512.88 266.2h0M513.75 268.24h0M514.62 268.82h0M515.49 269.28h0M516.36 269.65h0M517.22 269.94h0M518.09 270.16h0M518.96 270.32h0M519.83 270.42h0M520.69 270.47h0M521.56 270.48h0M522.43 270.47h0M523.3 270.45h0M524.17 270.43h0M525.03 270.4h0M525.9 270.36h0M526.77 270.32h0M527.64 270.27h0M528.51 270.21h0M529.37 270.14h0M530.24 270.07h0M531.11 269.99h0M531.98 269.91h0M532.84 269.82h0M533.71 269.72h0M534.58 269.62h0M535.45 269.5h0M536.32 269.3h0M537.18 269.03h0M538.05 268.69h0M538.92 268.28h0M539.79 267.81h0M540.65 267.28h0M541.52 266.71h0M542.39 266.11h0M543.26 265.49h0M544.13 264.87h0M544.99 264.22h0M545.86 263.53h0M546.73 262.77h0M547.6 261.94h0M548.46 261h0M549.33 259.94h0M550.2 258.73h0M551.07 257.29h0M551.94 255.42h0M552.8 253.17h0M553.67 250.73h0M554.54 248.3h0M555.41 245.82h0M556.27 243.18h0M557.14 240.3h0M558.01 237.19h0M558.88 261.11h0M559.75 262.98h0M560.61 264.59h0M561.48 265.94h0M562.35 267.08h0M563.22 268h0M564.08 268.75h0M564.95 269.35h0M565.82 269.88h0M566.69 270.33h0M567.56 270.73h0M568.42 271.09h0M569.29 271.41h0M570.16 271.71h0M571.03 271.99h0M571.89 272.25h0M572.76 272.51h0M573.63 272.76h0M574.5 272.99h0M575.37 273.21h0M576.23 273.41h0M577.1 273.6h0M577.97 273.78h0M578.84 273.95h0M579.71 274.11h0M580.57 274.26h0M581.44 274.4h0M582.31 274.54h0M583.18 274.67h0M584.04 274.79h0M584.91 274.91h0M585.78 275.03h0M586.65 275.14h0M587.52 275.24h0M588.38 275.34h0M589.25 275.43h0M590.12 275.52h0M590.99 275.61h0M591.85 275.69h0M592.72 275.77h0M593.59 275.84h0M594.46 275.92h0M595.33 275.98h0M596.19 276.05h0M597.06 276.11h0M597.93 276.16h0M598.8 276.22h0M599.66 276.27h0M600.53 276.32h0M601.4 276.37h0M602.27 276.41h0M603.14 276.45h0M604 276.49h0M604.87 276.53h0M605.74 276.56h0M606.61 276.6h0M607.47 276.63h0M608.34 276.66h0M609.21 276.69h0M610.08 276.71h0M610.95 276.74h0M611.81 276.76h0M612.68 276.78h0M613.55 276.81h0M614.42 276.82h0M615.28 276.84h0M616.15 276.86h0M617.02 276.88h0M617.89 276.9h0M618.76 276.91h0M619.62 276.93h0M620.49 276.94h0M621.36 276.96h0M622.23 276.97h0M623.09 276.98h0M623.96 277h0M624.83 277.01h0M625.7 277.02h0M626.57 277.03h0M627.43 277.05h0M628.3 277.06h0M629.17 277.07h0M630.04 277.08h0M630.91 277.09h0M631.77 277.11h0M632.64 277.12h0M633.51 277.13h0M634.38 277.14h0M635.24 277.15h0M636.11 277.16h0M636.98 277.17h0M637.85 277.18h0M638.72 277.19h0M639.58 277.2h0M640.45 277.21h0M641.32 277.21h0M642.19 277.22h0M643.05 277.23h0M643.92 277.24h0M644.79 277.24h0M645.66 277.25h0M646.53 277.26h0M647.39 277.26h0M648.26 277.27h0M649.13 277.28h0M650 277.28h0M650.86 277.29h0M651.73 277.29h0M652.6 277.3h0" stroke="#ff0000" stroke-width="5.0" stroke-linecap="square" fill="none"/>
<polyline points="396.6,277.3 397.47,277.3 398.34,277.29 399.2,277.29 400.07,277.29 400.94,277.29 401.81,277.29 402.67,277.29 403.54,277.28 404.41,277.28 405.28,277.28 406.15,277.28 407.01,277.27 407.88,277.27 408.75,277.27 409.62,277.26 410.48,277.26 411.35,277.26 412.22,277.25 413.09,277.25 413.96,277.25 414.82,277.24 415.69,277.24 416.56,277.23 417.43,277.23 418.29,277.23 419.16,277.22 420.03,277.21 420.9,277.21 421.77,277.2 422.63,277.2 423.5,277.19 424.37,277.18 425.24,277.17 426.11,277.17 426.97,277.16 427.84,277.15 428.71,277.14 429.58,277.13 430.44,277.12 431.31,277.11 432.18,277.1 433.05,277.09 433.92,277.08 434.78,277.07 435.65,277.06 436.52,277.04 437.39,277.03 438.25,277.02 439.12,277.01 439.99,276.99 440.86,276.98 441.73,276.97 442.59,276.95 443.46,276.94 444.33,276.92 445.2,276.91 446.06,276.89 446.93,276.87 447.8,276.86 448.67,276.84 449.54,276.82 450.4,276.8 451.27,276.79 452.14,276.77 453.01,276.75 453.87,276.72 454.74,276.7 455.61,276.68 456.48,276.66 457.35,276.63 458.21,276.61 459.08,276.58 459.95,276.55 460.82,276.53 461.68,276.5 462.55,276.46 463.42,276.43 464.29,276.4 465.16,276.36 466.02,276.33 466.89,276.29 467.76,276.25 468.63,276.21 469.49,276.17 470.36,276.13 471.23,276.09 472.1,276.04 472.97,275.99 473.83,275.94 474.7,275.89 475.57,275.83 476.44,275.77 477.31,275.71 478.17,275.64 479.04,275.57 479.91,275.49 480.78,275.41 481.64,275.32 482.51,275.22 483.38,275.11 484.25,275 485.12,274.87 485.98,274.73 486.85,274.58 487.72,274.42 488.59,274.24 489.45,274.04 490.32,273.83 491.19,273.59 492.06,273.24 492.93,272.63 493.79,271.77 494.66,270.79 495.53,269.63 496.4,268.24 497.26,266.54 498.13,264.49 499,262.13 499.87,259.48 500.74,256.46 501.6,252.97 502.47,249.01 503.34,244.5 504.21,238.99 505.07,231.79 505.94,222.14 506.81,209.64 507.68,193.24 508.55,173.5 509.41,149.89 510.28,120.03 511.15,81.94 512.02,262.13 512.88,265.93 513.75,268.24 514.62,269.68 515.49,270.69 516.36,271.29 517.22,271.67 518.09,271.98 518.96,272.23 519.83,272.41 520.69,272.5 521.56,272.51 522.43,272.48 523.3,272.43 524.17,272.36 525.03,272.27 525.9,272.17 526.77,272.04 527.64,271.91 528.51,271.76 529.37,271.61 530.24,271.45 531.11,271.29 531.98,271.12 532.84,270.93 533.71,270.71 534.58,270.47 535.45,270.2 536.32,269.9 537.18,269.58 538.05,269.24 538.92,268.86 539.79,268.46 540.65,268.03 541.52,267.57 542.39,267.09 543.26,266.57 544.13,266.04 544.99,265.47 545.86,264.89 546.73,264.27 547.6,263.62 548.46,262.91 549.33,262.14 550.2,261.29 551.07,260.34 551.94,259.27 552.8,258.06 553.67,256.6 554.54,254.83 555.41,252.77 556.27,250.44 557.14,247.88 558.01,245.02 558.88,241.77 559.75,261.11 560.61,263.36 561.48,265.22 562.35,266.73 563.22,267.89 564.08,268.75 564.95,269.39 565.82,269.94 566.69,270.39 567.56,270.79 568.42,271.13 569.29,271.44 570.16,271.73 571.03,272 571.89,272.26 572.76,272.51 573.63,272.76 574.5,272.99 575.37,273.21 576.23,273.41 577.1,273.6 577.97,273.78 578.84,273.95 579.71,274.11 580.57,274.26 581.44,274.4 582.31,274.54 583.18,274.67 584.04,274.79 584.91,274.91 585.78,275.03 586.65,275.14 587.52,275.24 588.38,275.34 589.25,275.43 590.12,275.52 590.99,275.61 591.85,275.69 592.72,275.77 593.59,275.84 594.46,275.92 595.33,275.98 596.19,276.05 597.06,276.11 597.93,276.16 598.8,276.22 599.66,276.27 600.53,276.32 601.4,276.37 602.27,276.41 603.14,276.45 604,276.49 604.87,276.53 605.74,276.56 606.61,276.6 607.47,276.63 608.34,276.66 609.21,276.69 610.08,276.71 610.95,276.74 611.81,276.76 612.68,276.78 613.55,276.81 614.42,276.82 615.28,276.84 616.15,276.86 617.02,276.88 617.89,276.9 618.76,276.91 619.62,276.93 620.49,276.94 621.36,276.96 622.23,276.97 623.09,276.98 623.96,277 624.83,277.01 625.7,277.02 626.57,277.03 627.43,277.05 628.3,277.06 629.17,277.07 630.04,277.08 630.91,277.09 631.77,277.11 632.64,277.12 633.51,277.13 634.38,277.14 635.24,277.15 636.11,277.16 636.98,277.17 637.85,277.18 638.72,277.19 639.58,277.2 640.45,277.21 641.32,277.21 642.19,277.22 643.05,277.23 643.92,277.24 644.79,277.24 645.66,277.25 646.53,277.26 647.39,277.26 648.26,277.27 649.13,277.28 650,277.28 650.86,277.29 651.73,277.29 652.6,277.3" stroke="#000" stroke-width="1.6" fill="none" stroke-linejoin="round"/>
<polyline points="396.6,277.3 397.47,277.3 398.34,277.29 399.2,277.29 400.07,277.29 400.94,277.29 401.81,277.29 402.67,277.29 403.54,277.28 404.41,277.28 405.28,277.28 406.15,277.28 407.01,277.27 407.88,277.27 408.75,277.27 409.62,277.26 410.48,277.26 411.35,277.26 412.22,277.25 413.09,277.25 413.96,277.25 414.82,277.24 415.69,277.24 416.56,277.23 417.43,277.23 418.29,277.23 419.16,277.22 420.03,277.21 420.9,277.21 421.77,277.2 422.63,277.2 423.5,277.19 424.37,277.18 425.24,277.17 426.11,277.17 426.97,277.16 427.84,277.15 428.71,277.14 429.58,277.13 430.44,277.12 431.31,277.11 432.18,277.1 433.05,277.09 433.92,277.08 434.78,277.07 435.65,277.06 436.52,277.04 437.39,277.03 438.25,277.02 439.12,277.01 439.99,276.99 440.86,276.98 441.73,276.97 442.59,276.95 443.46,276.94 444.33,276.92 445.2,276.91 446.06,276.89 446.93,276.87 447.8,276.86 448.67,276.84 449.54,276.82 450.4,276.8 451.27,276.79 452.14,276.77 453.01,276.75 453.87,276.72 454.74,276.7 455.61,276.68 456.48,276.66 457.35,276.63 458.21,276.61 459.08,276.58 459.95,276.55 460.82,276.53 461.68,276.5 462.55,276.46 463.42,276.43 464.29,276.4 465.16,276.36 466.02,276.33 466.89,276.29 467.76,276.25 468.63,276.21 469.49,276.17 470.36,276.13 471.23,276.09 472.1,276.04 472.97,275.99 473.83,275.94 474.7,275.89 475.57,275.83 476.44,275.77 477.31,275.71 478.17,275.64 479.04,275.57 479.91,275.49 480.78,275.41 481.64,275.32 482.51,275.22 483.38,275.1 484.25,274.98 485.12,274.84 485.98,274.7 486.85,274.54 487.72,274.38 488.59,274.21 489.45,274.04 490.32,273.89 491.19,273.72 492.06,273.47 492.93,272.93 493.79,272.14 494.66,271.23 495.53,270.12 496.4,268.75 497.26,266.99 498.13,264.83 499,262.42 499.87,259.77 500.74,256.92 501.6,253.99 502.47,251.26 503.34,248.37 504.21,244.91 505.07,240.79 505.94,234.95 506.81,225.39 507.68,211.9 508.55,195.76 509.41,175.86 510.28,147.38 511.15,109.43 512.02,78.89 512.88,264.17 513.75,268.24 514.62,270.26 515.49,271.56 516.36,272.31 517.22,272.79 518.09,273.19 518.96,273.5 519.83,273.71 520.69,273.82 521.56,273.83 522.43,273.8 523.3,273.73 524.17,273.63 525.03,273.5 525.9,273.36 526.77,273.2 527.64,273.02 528.51,272.84 529.37,272.65 530.24,272.47 531.11,272.31 531.98,272.16 532.84,272.01 533.71,271.87 534.58,271.72 535.45,271.58 536.32,271.43 537.18,271.28 538.05,271.13 538.92,270.97 539.79,270.79 540.65,270.61 541.52,270.41 542.39,270.2 543.26,269.96 544.13,269.7 544.99,269.41 545.86,269.09 546.73,268.71 547.6,268.27 548.46,267.77 549.33,267.2 550.2,266.56 551.07,265.84 551.94,265.05 552.8,264.17 553.67,263.15 554.54,261.95 555.41,260.55 556.27,258.92 557.14,257.04 558.01,254.81 558.88,252.11 559.75,248.9 560.61,258.06 561.48,261.98 562.35,264.58 563.22,266.2 564.08,267.11 564.95,267.83 565.82,268.65 566.69,269.45 567.56,270.22 568.42,270.94 569.29,271.59 570.16,272.16 571.03,272.67 571.89,273.09 572.76,273.45 573.63,273.74 574.5,273.97 575.37,274.18 576.23,274.37 577.1,274.54 577.97,274.69 578.84,274.83 579.71,274.95 580.57,275.07 581.44,275.18 582.31,275.28 583.18,275.38 584.04,275.48 584.91,275.57 585.78,275.66 586.65,275.74 587.52,275.82 588.38,275.9 589.25,275.97 590.12,276.03 590.99,276.1 591.85,276.16 592.72,276.22 593.59,276.27 594.46,276.32 595.33,276.37 596.19,276.42 597.06,276.46 597.93,276.51 598.8,276.55 599.66,276.58 600.53,276.62 601.4,276.65 602.27,276.69 603.14,276.72 604,276.75 604.87,276.77 605.74,276.8 606.61,276.82 607.47,276.85 608.34,276.87 609.21,276.89 610.08,276.91 610.95,276.93 611.81,276.95 612.68,276.97 613.55,276.98 614.42,277 615.28,277.01 616.15,277.03 617.02,277.04 617.89,277.06 618.76,277.07 619.62,277.08 620.49,277.09 621.36,277.1 622.23,277.11 623.09,277.12 623.96,277.13 624.83,277.14 625.7,277.15 626.57,277.16 627.43,277.17 628.3,277.18 629.17,277.18 630.04,277.19 630.91,277.2 631.77,277.2 632.64,277.21 633.51,277.21 634.38,277.22 635.24,277.23 636.11,277.23 636.98,277.24 637.85,277.24 638.72,277.25 639.58,277.25 640.45,277.25 641.32,277.26 642.19,277.26 643.05,277.27 643.92,277.27 644.79,277.27 645.66,277.28 646.53,277.28 647.39,277.28 648.26,277.29 649.13,277.29 650,277.29 650.86,277.29 651.73,277.3 652.6,277.3" stroke="#22dd22" stroke-width="1.6" fill="none" stroke-linejoin="round" stroke-dasharray="1.6 1.9"/>
<text x="435.65" y="294.6" font-size="13.8" text-anchor="middle" fill="#2e2e2e">10</text>
<text x="479.04" y="294.6" font-size="13.8" text-anchor="middle" fill="#2e2e2e">20</text>
<text x="522.43" y="294.6" font-size="13.8" text-anchor="middle" fill="#2e2e2e">30</text>
<text x="565.82" y="294.6" font-size="13.8" text-anchor="middle" fill="#2e2e2e">40</text>
<text x="609.21" y="294.6" font-size="13.8" text-anchor="middle" fill="#2e2e2e">50</text>
<text x="652.6" y="294.6" font-size="13.8" text-anchor="middle" fill="#2e2e2e">60</text>
<text x="392" y="283.09" font-size="13.8" text-anchor="end" fill="#2e2e2e">0</text>
<text x="392" y="232.19" font-size="13.8" text-anchor="end" fill="#2e2e2e">0.005</text>
<text x="392" y="181.29" font-size="13.8" text-anchor="end" fill="#2e2e2e">0.01</text>
<text x="392" y="130.39" font-size="13.8" text-anchor="end" fill="#2e2e2e">0.015</text>
<text x="392" y="79.49" font-size="13.8" text-anchor="end" fill="#2e2e2e">0.02</text>
<text x="392" y="28.59" font-size="13.8" text-anchor="end" fill="#2e2e2e">0.025</text>
<text x="524.6" y="16.9" font-size="15.4" text-anchor="middle" fill="#000">Position 2</text>
<text x="524.6" y="311.7" font-size="15.4" text-anchor="middle" fill="#2e2e2e">Frequency (Hz)</text>
<text x="0" y="0" font-size="15.4" text-anchor="middle" fill="#2e2e2e" transform="translate(357.1,150.15) rotate(-90)">Magnitude (m)</text>
<rect x="565.9" y="30.5" width="78.5" height="59.1" fill="#fff" stroke="#000" stroke-width="1"/>
<line x1="569.7" y1="39.8" x2="583.4" y2="39.8" stroke="#22dd22" stroke-width="1.7" stroke-dasharray="1.6 1.2"/>
<text y="42.6" font-size="11.6" fill="#000"><tspan x="585.7" font-style="italic">m</tspan><tspan x="594.3" y="46.1" font-size="8">N</tspan><tspan x="611.9" y="42.6">0.1</tspan><tspan x="630">kg</tspan></text>
<path d="M602.3 37.5h7.2M602.3 39.5h7.2" stroke="#222" stroke-width="0.65"/>
<line x1="569.7" y1="53.8" x2="583.4" y2="53.8" stroke="#000" stroke-width="1.7"/>
<text y="56.6" font-size="11.6" fill="#000"><tspan x="585.7" font-style="italic">m</tspan><tspan x="594.3" y="60.1" font-size="8">N</tspan><tspan x="611.9" y="56.6">0.2</tspan><tspan x="630">kg</tspan></text>
<path d="M602.3 51.5h7.2M602.3 53.5h7.2" stroke="#222" stroke-width="0.65"/>
<rect x="573.55" y="65" width="6" height="6" fill="#ff0000"/>
<text y="70.8" font-size="11.6" fill="#000"><tspan x="585.7" font-style="italic">m</tspan><tspan x="594.3" y="74.3" font-size="8">N</tspan><tspan x="611.9" y="70.8">0.3</tspan><tspan x="630">kg</tspan></text>
<path d="M602.3 65.5h7.2M602.3 68.5h7.2" stroke="#222" stroke-width="0.65"/>
<circle cx="576.55" cy="82" r="3.1" fill="#0000ff"/>
<text y="84.8" font-size="11.6" fill="#000"><tspan x="585.7" font-style="italic">m</tspan><tspan x="594.3" y="88.3" font-size="8">N</tspan><tspan x="611.9" y="84.8">0.4</tspan><tspan x="630">kg</tspan></text>
<path d="M602.3 79.5h7.2M602.3 82.5h7.2" stroke="#222" stroke-width="0.65"/>
<text x="412.9" y="63.8" font-size="11.65" text-anchor="start" fill="#000">Complex vibration</text>
<line x1="492.3" y1="66" x2="502.9" y2="75.88" stroke="#00f4ff" stroke-width="2.4"/>
<path d="M507 79.7L499.58 77.98L504.76 72.42Z" fill="#00f4ff"/>
<text x="407" y="202.9" font-size="11.65" text-anchor="start" fill="#000">Complex vibration</text>
<line x1="485.7" y1="205.4" x2="495.81" y2="214.38" stroke="#00f4ff" stroke-width="2.4"/>
<path d="M500 218.1L492.54 216.56L497.59 210.88Z" fill="#00f4ff"/>
<clipPath id="clip2"><rect x="549.1" y="115.5" width="87.6" height="88.4"/></clipPath>
<rect x="549.1" y="115.5" width="87.6" height="88.4" fill="#fff"/>
<line x1="549.1" y1="203.9" x2="549.1" y2="202.3" stroke="#555" stroke-width="1.7"/>
<line x1="549.1" y1="115.5" x2="549.1" y2="117.1" stroke="#555" stroke-width="1.7"/>
<line x1="592.9" y1="203.9" x2="592.9" y2="202.3" stroke="#555" stroke-width="1.7"/>
<line x1="592.9" y1="115.5" x2="592.9" y2="117.1" stroke="#555" stroke-width="1.7"/>
<line x1="636.7" y1="203.9" x2="636.7" y2="202.3" stroke="#555" stroke-width="1.7"/>
<line x1="636.7" y1="115.5" x2="636.7" y2="117.1" stroke="#555" stroke-width="1.7"/>
<line x1="549.1" y1="203.9" x2="550.7" y2="203.9" stroke="#555" stroke-width="1.7"/>
<line x1="636.7" y1="203.9" x2="635.1" y2="203.9" stroke="#555" stroke-width="1.7"/>
<line x1="549.1" y1="159.7" x2="550.7" y2="159.7" stroke="#555" stroke-width="1.7"/>
<line x1="636.7" y1="159.7" x2="635.1" y2="159.7" stroke="#555" stroke-width="1.7"/>
<line x1="549.1" y1="115.5" x2="550.7" y2="115.5" stroke="#555" stroke-width="1.7"/>
<line x1="636.7" y1="115.5" x2="635.1" y2="115.5" stroke="#555" stroke-width="1.7"/>
<rect x="549.1" y="115.5" width="87.6" height="88.4" fill="none" stroke="#555" stroke-width="1.7"/>
<path d="M549.1 198.6h0M553.48 197.72h0M557.86 196.72h0M562.24 195.5h0M566.62 193.95h0M571 191.97h0M575.38 189.31h0M579.76 184.45h0M584.14 180.03h0M588.52 179.15h0M592.9 173.84h0M597.28 168.1h0M601.66 159.7h0M606.04 150.42h0M610.42 137.6h0M614.8 123.46h0M579.76 187.55h0M579.76 185.78h0M579.76 182.68h0M579.76 180.92h0M584.14 178.71h0M619.18 196.39h0M623.56 196.83h0M627.94 197.43h0M632.32 198.15h0M636.7 199.04h0" stroke="#0000ff" stroke-width="5.5" stroke-linecap="round" fill="none"/>
<path d="M549.1 199.21h0M553.48 198.18h0M557.86 196.91h0M562.24 195.5h0M566.62 194h0M571 192.36h0M575.38 190.64h0M579.76 189.01h0M584.14 187.1h0M588.52 184.01h0M592.9 179.59h0M597.28 174.73h0M601.66 168.98h0M606.04 160.58h0M610.42 150.86h0M614.8 159.7h0M614.8 158.82h0M614.8 157.93h0M614.8 157.05h0M614.8 156.16h0M614.8 155.28h0M614.8 154.4h0M614.8 153.51h0M614.8 152.63h0M614.8 151.74h0M614.8 150.86h0M614.8 149.98h0M614.8 149.09h0M614.8 148.21h0M614.8 147.32h0M614.8 146.44h0M614.8 145.56h0M614.8 144.67h0M614.8 143.79h0M614.8 142.9h0M614.8 142.02h0M614.8 141.14h0M614.8 140.25h0M614.8 139.37h0M614.8 138.48h0M614.8 137.6h0M614.8 136.72h0M614.8 135.83h0M614.8 134.95h0M614.8 134.06h0M614.8 133.18h0M614.8 132.3h0M614.8 131.41h0M614.8 130.53h0M614.8 129.64h0M614.8 128.76h0M614.8 127.88h0M614.8 126.99h0M614.8 126.11h0M614.8 125.22h0M614.8 124.34h0M614.8 123.46h0M614.8 122.57h0M614.8 121.69h0M614.8 120.8h0M614.8 119.92h0M614.8 119.04h0M614.8 118.15h0M614.8 117.27h0M614.8 116.38h0M614.8 115.5h0M619.18 117.27h0M623.56 197.27h0M627.94 198.15h0M632.32 199.04h0M636.7 199.92h0" stroke="#ff0000" stroke-width="4.8" stroke-linecap="square" fill="none"/>
<polyline points="549.1,199.92 553.48,199.19 557.86,198.3 562.24,197.27 566.62,196.12 571,194.81 575.38,193.29 579.76,191.57 584.14,189.61 588.52,187.22 592.9,184.09 597.28,179.91 601.66,174.48 606.04,167.36 610.42,158.79 614.8,148.54 619.18,135.57 623.56,119.04 627.94,197.27 632.32,198.92 636.7,199.92" stroke="#000" stroke-width="1.7" fill="none" stroke-linejoin="round" clip-path="url(#clip2)"/>
<polyline points="549.1,200.14 553.48,199.38 557.86,198.44 562.24,197.4 566.62,196.24 571,195.01 575.38,193.73 579.76,192.55 584.14,191.3 588.52,189.8 592.9,188.01 597.28,185.47 601.66,181.32 606.04,175.46 610.42,168.45 614.8,159.81 619.18,147.45 623.56,130.97 627.94,117.71 632.32,198.15 636.7,199.92" stroke="#22dd22" stroke-width="1.7" fill="none" stroke-linejoin="round" stroke-dasharray="1.6 1.9" clip-path="url(#clip2)"/>
<text x="549.1" y="219.7" font-size="13.6" text-anchor="middle" fill="#2e2e2e">24</text>
<text x="592.9" y="219.7" font-size="13.6" text-anchor="middle" fill="#2e2e2e">26</text>
<text x="636.7" y="219.7" font-size="13.6" text-anchor="middle" fill="#2e2e2e">28</text>
<text x="545.9" y="209.52" font-size="13.6" text-anchor="end" fill="#2e2e2e">0</text>
<text x="545.9" y="165.32" font-size="13.6" text-anchor="end" fill="#2e2e2e">0.01</text>
<text x="545.9" y="121.12" font-size="13.6" text-anchor="end" fill="#2e2e2e">0.02</text>
</svg></body></html>
